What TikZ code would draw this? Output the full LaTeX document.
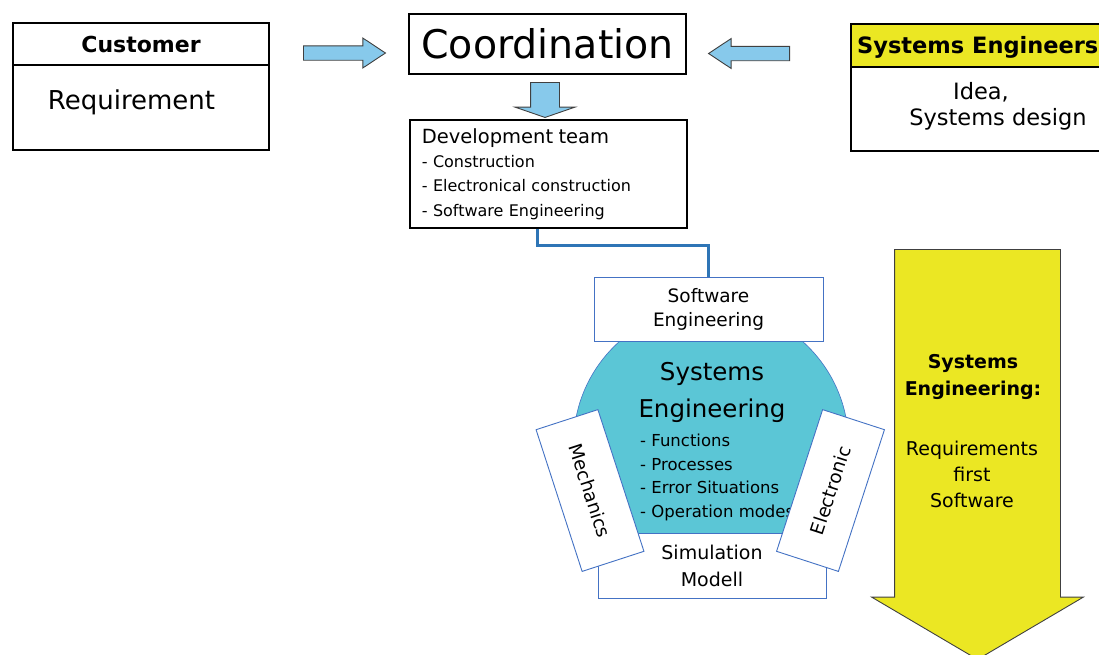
\documentclass[tikz,border=0pt]{standalone}
\usepackage{fontspec}
\setmainfont{DejaVu Sans}
\usetikzlibrary{shapes.arrows}

\definecolor{arrowblue}{RGB}{135,201,235}
\definecolor{seyellow}{RGB}{235,231,35}
\definecolor{secyan}{RGB}{91,198,214}
\definecolor{boxblue}{RGB}{68,114,196}
\definecolor{linkblue}{RGB}{46,117,182}

\newcommand{\fs}[2]{\fontsize{#1}{#2}\selectfont}

\begin{document}
\begin{tikzpicture}[x=1pt,y=-1pt,
    blackbox/.style={draw=black,line width=1.8pt,inner sep=0pt,align=center},
    bluebox/.style={draw=boxblue,line width=0.9pt,fill=white,inner sep=0pt,align=center},
    blockarrow/.style={single arrow,draw=black!75,line width=0.9pt,fill=arrowblue,
        inner xsep=0pt,single arrow head indent=0pt,anchor=tail}]
    \useasboundingbox (0,0) rectangle (1099,654);
    % Customer
    \node[blackbox,minimum width=256,minimum height=42,font=\fs{22}{26}\bfseries] (cust) at (141,44) {Customer};
    \node[blackbox,minimum width=256,minimum height=85] (custbody) at (141,107.5) {};
    \node[font=\fs{26}{30}] (req) at (131.5,102) {Requirement};
    % Coordination
    \node[blackbox,minimum width=277,minimum height=60,font=\fs{39.5}{44}] (coord) at (547.5,44) {Coordination};
    % Systems engineers
    \node[blackbox,fill=seyellow,minimum width=259,minimum height=43] (seng) at (980.5,45.5) {};
    \node[blackbox,minimum width=259,minimum height=84] (sengbody) at (980.5,109) {};
    \node[anchor=west,inner sep=0pt,font=\fs{22.5}{26}\bfseries] (sengtitle) at (857,47) {Systems Engineers};
    \node[font=\fs{22.5}{27}] (idea) at (981,92) {Idea,};
    \node[font=\fs{22.5}{27}] (sdesign) at (998,119) {Systems design};
    % Block arrows
    \node[blockarrow,minimum height=82,inner ysep=6.75,single arrow head extend=7.75,
        single arrow tip angle=67] (toright) at (303,53) {};
    \node[blockarrow,rotate=180,minimum height=81,inner ysep=6.75,single arrow head extend=7.75,
        single arrow tip angle=67] (toleft) at (790,53.5) {};
    \node[blockarrow,rotate=-90,minimum height=35,inner ysep=14,single arrow head extend=15.5,
        single arrow tip angle=142] (todown) at (545,82) {};
    % Development team
    \node[blackbox,anchor=north west,minimum width=277,minimum height=108,text width=253,
        inner xsep=12,align=left,font=\fs{16}{24.3}] (dev) at (409,119)
        {{\fs{19.5}{24}Development team}\\- Construction\\- Electronical construction\\- Software Engineering};
    % Systems engineering circle
    \draw[boxblue,line width=0.6pt,fill=secyan] (711,444) circle[radius=137.5pt];
    \node[bluebox,minimum width=229,minimum height=64,font=\fs{18.5}{24}] (sweng) at (708.5,309) {Software\\Engineering};
    \draw[linkblue,line width=3pt] ([xshift=-10.5pt]dev.south) -- ++(0,17) -| (sweng.north);
    \node[align=center,font=\fs{24.5}{37}] (setitle) at (712,392) {Systems\\Engineering};
    \node[anchor=west,inner sep=0pt,align=left,font=\fs{16.5}{23.7}] (seitems) at (640,477.5)
        {- Functions\\- Processes\\- Error Situations\\- Operation modes};
    \node[bluebox,minimum width=228,minimum height=65,font=\fs{19}{27}] (simu) at (712,565.5) {Simulation\\Modell};
    \node[bluebox,minimum width=149,minimum height=65,rotate=-72,font=\fs{18.5}{22}] (mech) at (590,490.5) {Mechanics};
    \node[bluebox,minimum width=149,minimum height=65,rotate=72,font=\fs{18.5}{22}] (elec) at (830.5,490.5) {Electronic};
    % Yellow arrow
    \node[single arrow,draw=black!75,line width=0.9pt,fill=seyellow,inner xsep=0pt,inner ysep=82.5,
        anchor=tail,rotate=-90,minimum height=410,single arrow head extend=23,
        single arrow head indent=0pt,single arrow tip angle=119] (sedir) at (977.5,249) {};
    \node[align=center,font=\fs{19}{27}\bfseries] (sedirtitle) at (973,376.5) {Systems\\Engineering:};
    \node[align=center,font=\fs{19}{26}] (sedirtext) at (972,474) {Requirements\\first\\Software};
\end{tikzpicture}
\end{document}
